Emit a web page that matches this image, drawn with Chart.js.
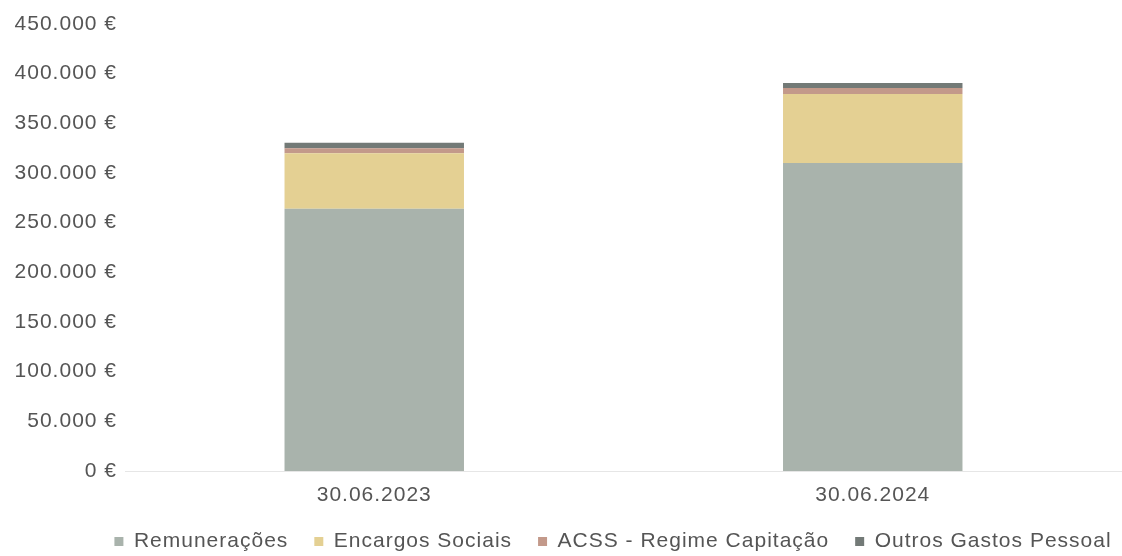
<!DOCTYPE html>
<html><head><meta charset="utf-8">
<script src="https://cdn.jsdelivr.net/npm/chart.js@4"></script>
<style>html,body{margin:0;padding:0;background:#fff}#w{width:1122px;height:556px}</style>
</head><body><div id="w"><canvas id="c"></canvas></div>
<script>
const categories = ["30.06.2023", "30.06.2024"];
const remuneracoes = [264000, 310000];
const encargosSociais = [56000, 69500];
const acss = [5000, 6000];
const outrosGastos = [5500, 5000];
const yTicks = [0, 50000, 100000, 150000, 200000, 250000, 300000, 350000, 400000, 450000];

const fmt = v => (v === 0 ? "0" : v.toLocaleString("de-DE")) + " €";
const fam = "Liberation Sans, Arial, sans-serif";
const font = {family: fam, size: 21};
const LEG_PAD = 26;

const tweaks = {
  id: "tweaks",
  beforeInit(c) {
    c.ctx.letterSpacing = "1px";
    const lg = c.legend;
    if (lg) {
      const fit = lg.fit;
      lg.fit = function () { fit.call(this); this.height = 48; };
      const draw = lg.draw;
      lg.draw = function () {
        const ctx = this.ctx;
        ctx.save();
        ctx.translate(52, -3);
        draw.call(this);
        ctx.restore();
      };
    }
  },
  beforeUpdate(c) { c.ctx.letterSpacing = "1px"; },
  beforeDraw(c) { c.ctx.letterSpacing = "1px"; }
};

new Chart(document.getElementById("c"), {
  type: "bar",
  plugins: [tweaks],
  data: {
    labels: categories,
    datasets: [
      {label: "Remunerações", data: remuneracoes, backgroundColor: "#a9b3ac"},
      {label: "Encargos Sociais", data: encargosSociais, backgroundColor: "#e4d093"},
      {label: "ACSS - Regime Capitação", data: acss, backgroundColor: "#c3998a"},
      {label: "Outros Gastos Pessoal", data: outrosGastos, backgroundColor: "#737a77"}
    ]
  },
  options: {
    responsive: true, maintainAspectRatio: false, animation: false,
    layout: {padding: {top: 24, right: 0, left: 0, bottom: 0}},
    datasets: {bar: {barPercentage: 0.36, categoryPercentage: 1}},
    scales: {
      x: {stacked: true, grid: {display: false, drawTicks: false}, border: {color: "#e6e6e6"},
          afterFit: s => { s.height = 37; },
          ticks: {color: "#555", font: font, padding: 12}},
      y: {stacked: true, min: 0, max: 450000, grid: {display: false, drawTicks: false}, border: {display: false},
          afterFit: s => { s.width = 125; },
          afterBuildTicks: a => { a.ticks = yTicks.map(v => ({value: v})); },
          ticks: {color: "#555", font: font, padding: 8, callback: v => fmt(v)}}
    },
    plugins: {
      tooltip: {enabled: false},
      legend: {position: "bottom", labels: {color: "#555", font: font, boxWidth: 9, boxHeight: 9, padding: LEG_PAD}}
    }
  }
});
</script></body></html>
